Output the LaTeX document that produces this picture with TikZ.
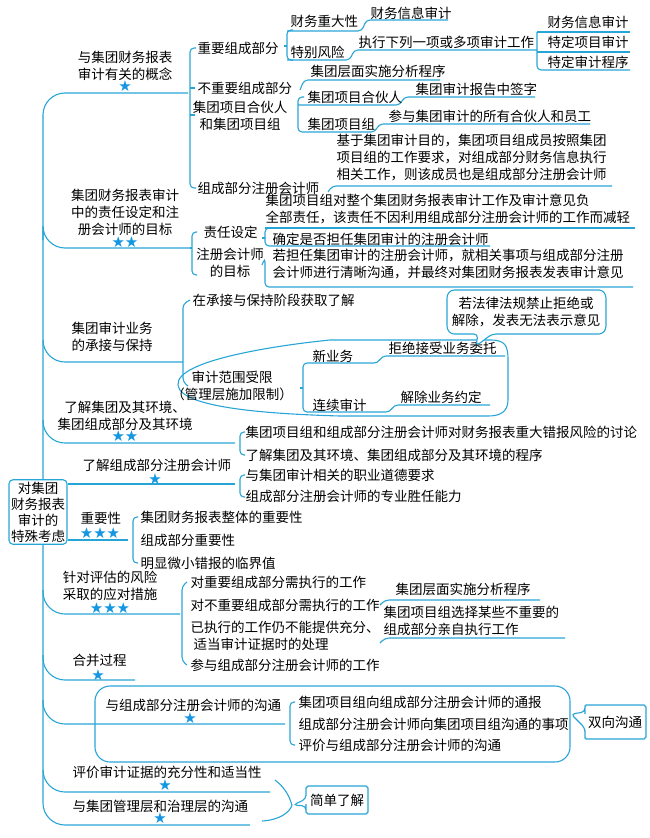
\documentclass[tikz,border=0pt]{standalone}
\usepackage{fontspec}
\setmainfont{Noto Sans CJK SC}
\newfontfamily\symf{DejaVu Sans}
\definecolor{ln}{RGB}{40,165,215}
\definecolor{st}{RGB}{20,150,225}
\newcommand\tx[3]{\node[anchor=west,inner sep=0pt] at (#1,#2) {#3};}
\newcommand\tc[3]{\node[align=center,inner sep=0pt,font=\fontsize{13.5}{17}\selectfont] at (#1,#2) {#3};}
\newcommand\stars[3]{\node[text=st,inner sep=0pt,font=\symf\fontsize{15}{15}\selectfont] at (#1,#2) {#3};}
\begin{document}
\begin{tikzpicture}[x=1pt,y=-1pt,font=\fontsize{13.5}{17}\selectfont,
  every path/.style={draw=ln,line width=1.1pt,rounded corners=4pt}]
\useasboundingbox[draw=none] (0,0) rectangle (650,838);
% spine
\draw[rounded corners=22pt] (188,93) -- (43,93) -- (43,825) -- (250,825);
\draw[rounded corners=22pt] (43,240) |- (190,248);
\draw[rounded corners=22pt] (43,340) |- (183,362);
\draw[rounded corners=22pt] (43,420) |- (235,443);
\draw (68,484) -- (235,484);
\draw (68,540) -- (128,540);
\draw[rounded corners=22pt] (43,590) |- (180,614);
\draw[rounded corners=22pt] (43,655) |- (135,680);
\draw[rounded corners=22pt] (43,700) |- (285,724);
\draw[rounded corners=22pt] (43,770) |- (270,792);
% root
\node[draw=ln,line width=1.1pt,rounded corners=4pt,fill=white,align=center,inner sep=2pt,font=\fontsize{13.5}{16}\selectfont] (root) at (38,512) {对集团\\财务报表\\审计的\\特殊考虑};
% B1
\tc{125}{66}{与集团财务报表\\审计有关的概念}
\stars{125}{86}{★}
\draw (196,48) -- (190,48) -- (190,188) -- (196,188);
\draw (190,88)--(195,88); \draw (190,115)--(195,115);
\tx{197}{48}{重要组成部分}
\tx{197}{88}{不重要组成部分}
\tc{240}{116}{集团项目合伙人\\和集团项目组}
\tx{197}{188}{组成部分注册会计师}
\draw (293,30) -- (287,30) -- (287,60) -- (293,60);
\draw (284,46)--(287,46);
\tx{290}{21}{财务重大性} \draw (287,31) -- (362,31) -- (366,20) -- (448,20);
\tx{370}{13}{财务信息审计}
\tx{290}{52}{特别风险} \draw (287,60) -- (350,60) -- (354,50) -- (537,50);
\tx{358}{42}{执行下列一项或多项审计工作}
\draw (537,32) -- (537,70) -- (630,70); \draw (537,32)--(630,32); \draw (537,52)--(630,52);
\tx{547}{22}{财务信息审计}\tx{547}{42}{特定项目审计}\tx{547}{62}{特定审计程序}
\draw (300,90) -- (304,80) -- (440,80); \tx{310}{71}{集团层面实施分析程序}
\draw (304,97) -- (298,97) -- (298,132) -- (375,132) -- (379,124) -- (590,124);
\draw (298,105) -- (400,105) -- (404,97) -- (535,97);
\tx{307}{97}{集团项目合伙人}\tx{415}{89}{集团审计报告中签字}
\tx{307}{124}{集团项目组}\tx{388}{116}{参与集团审计的所有合伙人和员工}
\draw (328,192) -- (332,186) -- (612,186);
\node[anchor=north west,inner sep=0pt,align=left] at (336,134) {基于集团审计目的，集团项目组成员按照集团\\项目组的工作要求，对组成部分财务信息执行\\相关工作，则该成员也是组成部分注册会计师};
% B2
\tc{125}{212}{集团财务报表审计\\中的责任设定和注\\册会计师的目标}
\stars{125}{242}{★★}
\draw (197,232) -- (192,232) -- (192,275) -- (197,275);
\draw (190,248)--(192,248);
\tx{203}{232}{责任设定}
\tc{230}{263}{注册会计师\\的目标}
\draw (270,228) -- (265,228) -- (265,246) -- (490,246);
\draw (265,228) -- (635,228);
\draw (262,238)--(265,238);
\node[anchor=north west,inner sep=0pt,align=left] at (265,193) {集团项目组对整个集团财务报表审计工作及审计意见负\\全部责任，该责任不因利用组成部分注册会计师的工作而减轻};
\tx{272}{239}{确定是否担任集团审计的注册会计师}
\draw (262,265) -- (265,258) -- (265,287) -- (633,287);
\node[anchor=north west,inner sep=0pt,align=left] at (272,249) {若担任集团审计的注册会计师，就相关事项与组成部分注册\\会计师进行清晰沟通，并最终对集团财务报表发表审计意见};
% B3
\tc{112}{337}{集团审计业务\\的承接与保持}
\draw (190,300) -- (183,304) -- (183,382) -- (188,386);
\tx{192}{300}{在承接与保持阶段获取了解}
\draw[rounded corners=0pt] (178,385) .. controls (175,360) and (280,345) .. (330,340) -- (490,340) .. controls (505,340) and (508,345) .. (508,360) -- (508,400) .. controls (508,412) and (500,416) .. (488,416) -- (340,416) .. controls (270,414) and (180,408) .. (178,385);
\tc{232}{386}{审计范围受限\\（管理层施加限制）}
\draw (303,370) -- (303,412) -- (390,412) -- (394,405) -- (490,405);
\draw (300,388)--(303,388);
\draw (303,370) -- (303,363) -- (378,363) -- (382,356) -- (505,356);
\tx{312}{356}{新业务}\tx{388}{348}{拒绝接受业务委托}
\tx{312}{405}{连续审计}\tx{400}{397}{解除业务约定}
\draw[fill=white] (478,334) -- (458,334) .. controls (450,334) and (447,330) .. (447,322) -- (447,302) .. controls (447,294) and (450,290) .. (458,290) -- (595,290) .. controls (603,290) and (606,294) .. (606,302) -- (606,322) .. controls (606,330) and (603,334) .. (595,334) -- (492,334) -- (476,346) -- cycle;
\node[align=center,inner sep=0pt] at (526,312) {若法律法规禁止拒绝或\\解除，发表无法表示意见};
% B4, B5
\tc{125}{416}{了解集团及其环境、\\集团组成部分及其环境}
\stars{125}{436}{★★}
\draw (245,432) -- (240,432) -- (240,455) -- (245,455);
\tx{245}{432}{集团项目组和组成部分注册会计师对财务报表重大错报风险的讨论}
\tx{245}{455}{了解集团及其环境、集团组成部分及其环境的程序}
\tx{82}{465}{了解组成部分注册会计师}
\stars{155}{479}{★}
\draw (245,475) -- (240,475) -- (240,497) -- (245,497);
\tx{245}{475}{与集团审计相关的职业道德要求}
\tx{245}{496}{组成部分注册会计师的专业胜任能力}
% B6
\tx{80}{518}{重要性}
\stars{100}{533}{★★★}
\draw (138,517) -- (133,517) -- (133,563) -- (138,563);
\tx{140}{517}{集团财务报表整体的重要性}
\tx{140}{540}{组成部分重要性}
\tx{140}{563}{明显微小错报的临界值}
% B7
\tc{110}{586}{针对评估的风险\\采取的应对措施}
\stars{110}{608}{★★★}
\draw (187,582) -- (182,586) -- (182,661) -- (187,665);
\tx{190}{582}{对重要组成部分需执行的工作}
\tx{190}{605}{对不重要组成部分需执行的工作}
\tx{190}{627}{已执行的工作仍不能提供充分、}
\tx{193}{644}{适当审计证据时的处理}
\tx{190}{665}{参与组成部分注册会计师的工作}
\draw (380,605) -- (385,600) -- (540,600);
\draw (380,643) -- (385,638) -- (565,638);
\tx{395}{589}{集团层面实施分析程序}
\node[anchor=west,align=left,inner sep=0pt] at (383,621) {集团项目组选择某些不重要的\\组成部分亲自执行工作};
% B8
\tx{72}{660}{合并过程}
\stars{98}{675}{★}
% B9
\draw[rounded corners=15pt] (290,686) -- (570,686) -- (570,762) -- (95,762) -- (95,686) -- cycle;
\tx{105}{705}{与组成部分注册会计师的沟通}
\stars{190}{718}{★}
\draw (295,702) -- (290,702) -- (290,745) -- (295,745);
\tx{298}{702}{集团项目组向组成部分注册会计师的通报}
\tx{298}{724}{组成部分注册会计师向集团项目组沟通的事项}
\tx{298}{745}{评价与组成部分注册会计师的沟通}
\draw[fill=white] (585,712) -- (585,710) .. controls (585,707) and (587,705) .. (590,705) -- (640,705) .. controls (644,705) and (646,707) .. (646,711) -- (646,733) .. controls (646,737) and (644,739) .. (640,739) -- (590,739) .. controls (587,739) and (585,737) .. (585,734) -- (585,728) -- (571,714) -- cycle;
\node[inner sep=0pt] at (615,722) {双向沟通};
% B10, B11
\tx{72}{772}{评价审计证据的充分性和适当性}
\stars{165}{785}{★}
\tx{72}{806}{与集团管理层和治理层的沟通}
\stars{160}{818}{★}
\draw[rounded corners=0pt] (275,780) .. controls (288,790) and (290,800) .. (292,805) .. controls (290,812) and (280,820) .. (262,821);
\draw[fill=white] (306,799) -- (306,792) .. controls (306,788) and (308,786) .. (312,786) -- (362,786) .. controls (366,786) and (368,788) .. (368,792) -- (368,808) .. controls (368,812) and (366,814) .. (362,814) -- (312,814) .. controls (308,814) and (306,812) .. (306,808) -- (306,806) -- (293,805) -- cycle;
\node[inner sep=0pt] at (337,800) {简单了解};
\end{tikzpicture}
\end{document}
